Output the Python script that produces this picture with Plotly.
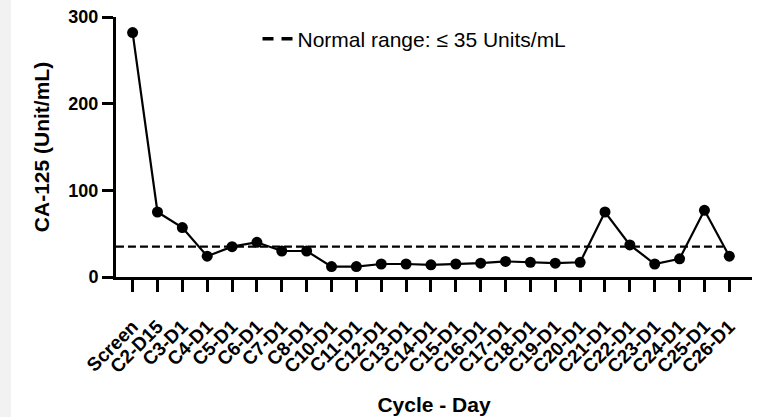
import plotly.graph_objects as go

categories = ["Screen", "C2-D15", "C3-D1", "C4-D1", "C5-D1", "C6-D1", "C7-D1", "C8-D1",
              "C10-D1", "C11-D1", "C12-D1", "C13-D1", "C14-D1", "C15-D1", "C16-D1",
              "C17-D1", "C18-D1", "C19-D1", "C20-D1", "C21-D1", "C22-D1", "C23-D1",
              "C24-D1", "C25-D1", "C26-D1"]
ca125 = [282, 75, 57, 24, 35, 40, 30, 30,
         12, 12, 15, 15, 14, 15, 16,
         18, 17, 16, 17, 75, 37, 15,
         21, 77, 24]
normal_limit = 35
limit_x = [-0.67, 23.75]
y_ticks = [0, 100, 200, 300]
legend_label = "Normal range: \u2264 35 Units/mL"

FONT = "Liberation Sans, Arial, sans-serif"
idx = list(range(len(categories)))

fig = go.Figure()
fig.add_trace(go.Scatter(
    x=limit_x, y=[normal_limit, normal_limit], mode="lines",
    line=dict(color="black", width=2.2, dash="8px,4px"),
    showlegend=False, hoverinfo="skip"))
# legend-only entry with the bolder dash sample used in the reference legend
fig.add_trace(go.Scatter(
    x=[None], y=[None], mode="lines",
    line=dict(color="black", width=3.5, dash="11px,8px"),
    name=legend_label, showlegend=True))
fig.add_trace(go.Scatter(
    x=idx, y=ca125, mode="lines+markers",
    line=dict(color="black", width=2.2),
    marker=dict(color="black", size=11, symbol="circle"),
    showlegend=False, cliponaxis=False))

fig.update_layout(
    width=759, height=417,
    margin=dict(l=116, r=7, t=17, b=140, pad=0, autoexpand=False),
    paper_bgcolor="white", plot_bgcolor="white",
    font=dict(family=FONT, color="black"),
    legend=dict(x=0.2225, y=0.915, xanchor="left", yanchor="middle",
                bgcolor="rgba(0,0,0,0)", font=dict(size=21, family=FONT),
                itemwidth=30),
    shapes=[dict(type="rect", xref="paper", yref="paper",
                 x0=-116/636, x1=-105/636, y0=-140/260, y1=1+17/260,
                 fillcolor="#f2f2f2", line=dict(width=0), layer="below")],
)
fig.update_xaxes(
    range=[-0.668, 24.913], tickmode="array", tickvals=idx, ticktext=categories,
    tickangle=-45, tickfont=dict(size=19, weight="bold", family=FONT),
    ticklabelstandoff=16, automargin=False,
    ticks="outside", ticklen=12, tickwidth=3, tickcolor="black",
    showline=True, linewidth=3, linecolor="black", showgrid=False, zeroline=False,
    title=dict(text="Cycle - Day", font=dict(size=21, weight="bold", family=FONT), standoff=22))
fig.update_yaxes(
    range=[0, 300], tickmode="array", tickvals=y_ticks, automargin=False,
    tickfont=dict(size=18, weight="bold", family=FONT),
    ticks="outside", ticklen=11, tickwidth=3, tickcolor="black",
    showline=True, linewidth=3, linecolor="black", showgrid=False, zeroline=False,
    title=dict(text="CA-125 (Unit/mL)", font=dict(size=21, weight="bold", family=FONT), standoff=14))

fig.write_html("out.html")
